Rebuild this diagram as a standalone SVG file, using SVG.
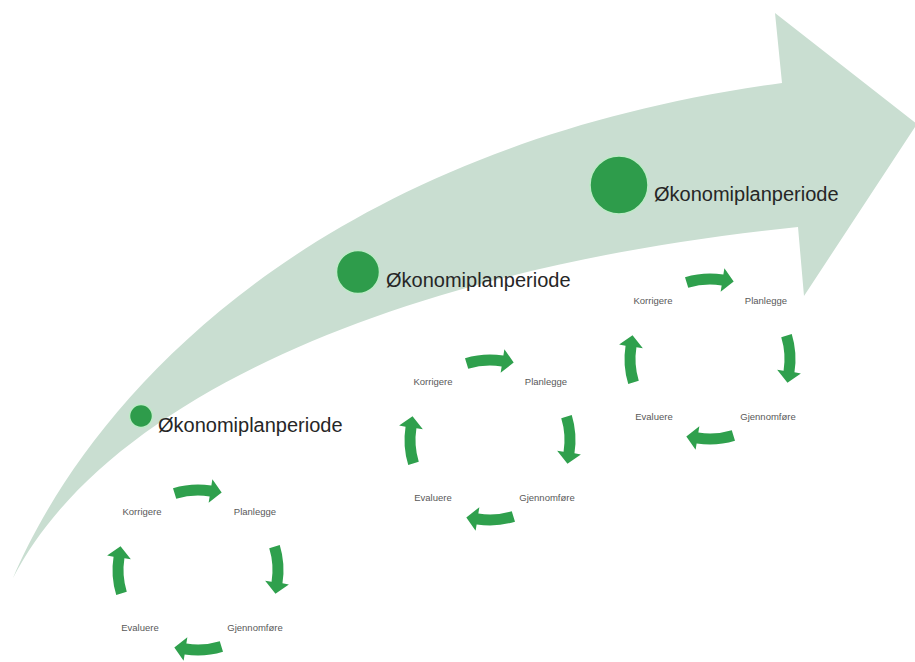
<svg xmlns="http://www.w3.org/2000/svg" xmlns:xlink="http://www.w3.org/1999/xlink" width="915" height="662" viewBox="0 0 915 662">
  <style>
    .band { fill: #c9ded1; }
    .dot { fill: #2e9c4b; stroke: #bdeac6; stroke-width: 1.5; }
    .big { font-family: "Liberation Sans", Arial, sans-serif; font-size: 20px; fill: #262626; }
    .lbl { font-family: "Liberation Sans", Arial, sans-serif; font-size: 9.5px; fill: #595959; text-anchor: middle; }
    .carr { fill: #2fa04d; }
  </style>
  <defs>
    <path id="arr" d="M -25.00,-81.75 A 85.5 85.5 0 0 1 13.37,-84.45 L 14.39,-90.87 L 23.68,-77.46 L 10.64,-67.16 L 11.65,-73.58 A 74.5 74.5 0 0 0 -21.78,-71.24 Z"/>
  </defs>
  <rect width="915" height="662" fill="#ffffff"/>

  <g id="timeline-arrow">
    <path class="band" d="M13,578 C80,420 290,150 782,83 L775,13 L917,124 L804,296 L798,227 C420,265 110,390 13,578 Z"/>
  </g>

  <g id="period-1">
    <circle class="dot" cx="141" cy="416" r="11.5"/>
    <text class="big" x="158" y="432">Økonomiplanperiode</text>
  </g>
  <g id="period-2">
    <circle class="dot" cx="358" cy="272" r="21.5"/>
    <text class="big" x="386" y="287">Økonomiplanperiode</text>
  </g>
  <g id="period-3">
    <circle class="dot" cx="619" cy="185" r="29"/>
    <text class="big" x="654" y="201">Økonomiplanperiode</text>
  </g>

  <g id="cycle-1">
    <g id="c1-korrigere"><text class="lbl" x="142" y="515">Korrigere</text></g>
    <g id="c1-planlegge"><text class="lbl" x="255" y="515">Planlegge</text></g>
    <g id="c1-gjennomfore"><text class="lbl" x="255" y="631">Gjennomføre</text></g>
    <g id="c1-evaluere"><text class="lbl" x="140" y="631">Evaluere</text></g>
  </g>
  <g id="cycle-2">
    <g id="c2-korrigere"><text class="lbl" x="433" y="385">Korrigere</text></g>
    <g id="c2-planlegge"><text class="lbl" x="546" y="385">Planlegge</text></g>
    <g id="c2-gjennomfore"><text class="lbl" x="547" y="501">Gjennomføre</text></g>
    <g id="c2-evaluere"><text class="lbl" x="433" y="501">Evaluere</text></g>
  </g>
  <g id="cycle-3">
    <g id="c3-korrigere"><text class="lbl" x="653" y="304">Korrigere</text></g>
    <g id="c3-planlegge"><text class="lbl" x="766" y="304">Planlegge</text></g>
    <g id="c3-gjennomfore"><text class="lbl" x="768" y="420">Gjennomføre</text></g>
    <g id="c3-evaluere"><text class="lbl" x="654" y="420">Evaluere</text></g>
  </g>

  <g id="connectors" class="carr">
    <use xlink:href="#arr" transform="translate(198,570)"/>
    <use xlink:href="#arr" transform="translate(198,570) rotate(90)"/>
    <use xlink:href="#arr" transform="translate(198,570) rotate(180)"/>
    <use xlink:href="#arr" transform="translate(198,570) rotate(270)"/>
    <use xlink:href="#arr" transform="translate(490,440)"/>
    <use xlink:href="#arr" transform="translate(490,440) rotate(90)"/>
    <use xlink:href="#arr" transform="translate(490,440) rotate(180)"/>
    <use xlink:href="#arr" transform="translate(490,440) rotate(270)"/>
    <use xlink:href="#arr" transform="translate(710,359)"/>
    <use xlink:href="#arr" transform="translate(710,359) rotate(90)"/>
    <use xlink:href="#arr" transform="translate(710,359) rotate(180)"/>
    <use xlink:href="#arr" transform="translate(710,359) rotate(270)"/>
  </g>
</svg>
